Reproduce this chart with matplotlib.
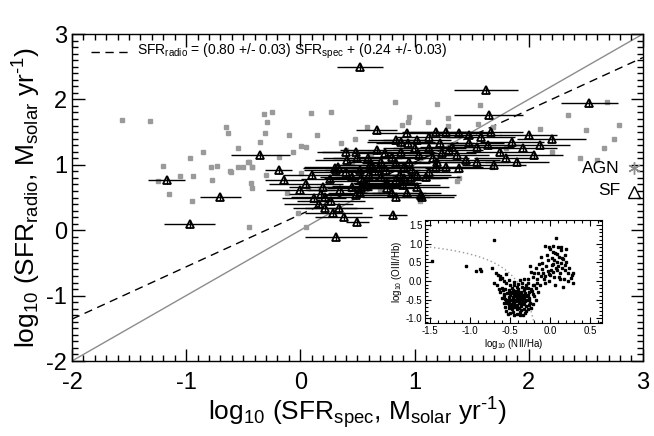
import matplotlib
matplotlib.use("Agg")
import matplotlib.pyplot as plt
import numpy as np

plt.rcParams['font.family'] = ['Liberation Sans', 'DejaVu Sans']
plt.rcParams['mathtext.fontset'] = 'custom'
plt.rcParams['mathtext.rm'] = 'Liberation Sans'
plt.rcParams['mathtext.it'] = 'Liberation Sans'
plt.rcParams['mathtext.bf'] = 'Liberation Sans'

# ---- SF galaxies: log SFR_spec, log SFR_radio, x error ----
sf_x = [0.52, 1.63, 2.53, -0.35, -0.19, -1.17, -0.70, -0.97, 0.31, -0.14,
        0.50, 0.38, 0.81, 0.67, 1.65, 0.10, 0.12, 0.22, 0.26, 0.20,
        0.22, 0.29, 0.34, 0.31, 0.40, 0.49, 0.41, 0.50, 0.93, 0.84,
        0.88, 0.74, 0.71, 0.61, 0.30, 0.33, 0.40, 0.45, 0.52, 0.53,
        0.45, 0.35, 0.53, 0.49, 0.52, 0.71, 0.75, 0.76, 0.80, 0.84,
        0.90, 0.93, 1.02, 1.06, 0.97, 0.84, 0.95, 1.04, 1.13, 1.02,
        1.13, 1.19, 1.28, 1.39, 1.48, 1.58, 1.67, 1.48, 1.55, 1.64,
        1.33, 1.22, 1.16, 1.24, 1.37, 1.45, 1.55, 1.39, 1.28, 1.19,
        1.13, 1.10, 0.98, 0.87, 0.91, 0.69, 0.63, 0.59, 0.67, 0.88,
        0.94, 0.76, 0.91, 0.84, 0.75, 1.02, 1.07, 0.16, 0.05, 0.60,
        1.85, 1.95, 2.05, 1.90, 2.10, 1.75, 1.80, 2.20, 2.00, 1.70,
        0.00, 0.18, 0.27, 0.55, 0.65, 1.20, 1.30, 1.00, 0.80, 0.58]
sf_y = [2.50, 2.14, 1.94, 1.15, 0.92, 0.77, 0.51, 0.09, -0.10, 0.77,
        0.13, 0.20, 0.23, 1.53, 1.76, 0.84, 0.49, 0.51, 0.78, 0.66,
        0.34, 0.26, 0.34, 0.92, 1.20, 1.20, 1.07, 1.10, 1.48, 1.38,
        1.35, 1.18, 1.05, 1.00, 0.95, 0.96, 0.89, 0.81, 0.92, 0.80,
        0.66, 0.61, 0.64, 0.54, 0.57, 0.81, 0.92, 0.64, 0.57, 0.51,
        0.69, 0.57, 0.66, 0.54, 0.80, 1.03, 1.05, 1.15, 1.26, 1.38,
        1.43, 1.50, 1.50, 1.48, 1.46, 1.43, 1.50, 1.33, 1.27, 1.30,
        1.27, 1.33, 1.10, 1.18, 1.15, 1.07, 1.04, 0.95, 0.97, 0.97,
        0.89, 0.81, 0.92, 0.84, 0.97, 0.95, 1.00, 1.10, 1.23, 1.20,
        1.33, 0.72, 0.80, 0.77, 0.70, 0.84, 0.51, 0.40, 0.70, 0.85,
        1.35, 1.25, 1.15, 1.05, 1.30, 1.20, 1.10, 1.40, 1.45, 1.00,
        0.62, 0.55, 0.45, 0.75, 0.90, 1.05, 1.22, 1.25, 1.12, 0.68]
sf_xerr = [0.20, 0.28, 0.25, 0.26, 0.12, 0.16, 0.18, 0.22, 0.27, 0.17,
           0.10, 0.25, 0.12, 0.18, 0.30, 0.25, 0.28, 0.30, 0.25, 0.30,
           0.28, 0.25, 0.30, 0.28, 0.25, 0.30, 0.28, 0.30, 0.30, 0.25,
           0.30, 0.28, 0.30, 0.32, 0.28, 0.30, 0.30, 0.28, 0.30, 0.32,
           0.30, 0.28, 0.30, 0.30, 0.28, 0.32, 0.30, 0.28, 0.30, 0.30,
           0.32, 0.30, 0.28, 0.30, 0.32, 0.30, 0.28, 0.30, 0.32, 0.30,
           0.28, 0.30, 0.32, 0.30, 0.28, 0.30, 0.28, 0.30, 0.32, 0.30,
           0.28, 0.30, 0.32, 0.30, 0.28, 0.30, 0.28, 0.30, 0.32, 0.30,
           0.28, 0.30, 0.32, 0.30, 0.28, 0.30, 0.28, 0.30, 0.32, 0.30,
           0.28, 0.30, 0.32, 0.30, 0.28, 0.30, 0.28, 0.30, 0.32, 0.30,
           0.28, 0.30, 0.25, 0.28, 0.26, 0.30, 0.28, 0.30, 0.25, 0.28,
           0.30, 0.28, 0.30, 0.32, 0.30, 0.28, 0.30, 0.28, 0.30, 0.30]

# ---- AGN: log SFR_spec, log SFR_radio ----
agn_x = [-1.32, -0.97, -1.05, -0.94, -0.78, -0.73, -0.65, -0.63, -0.62, -0.46,
         -0.42, -0.35, -0.32, -0.25, -0.29, -0.31, -0.19, -0.30, -0.06, 0.01,
         0.05, 0.09, 0.27, 0.36, 0.40, 0.48, 0.83, 1.20, 1.57, 0.58,
         0.89, 0.95, 0.94, 1.12, 1.29, 1.29, 1.56, 1.69, -0.45, -0.42,
         -0.55, -0.50, -0.61, -0.77, 0.01, -0.43, -0.42, -0.12, 0.07, -0.02,
         -0.45, 0.05, 1.68, 1.39, 1.37, 1.03, -1.56, -1.25, -1.15, -1.20,
         -0.95, 2.69, 2.79, 2.66, 2.60, 2.50, 2.34, 2.45, 2.75, 2.20,
         0.45, 0.62, 0.15, -0.10, 0.70, 1.05, 1.80, 2.10, -0.85, -0.55]
agn_y = [1.67, 1.10, 0.83, 0.83, 0.97, 0.98, 1.58, 1.49, 0.91, 1.04,
         0.97, 1.35, 1.78, 1.81, 1.65, 1.49, 1.12, 0.84, 1.20, 1.29,
         1.27, 1.79, 1.81, 1.33, 1.22, 1.40, 1.96, 1.93, 1.91, 1.58,
         1.61, 1.73, 1.65, 1.65, 1.71, 1.60, 1.62, 1.58, 1.04, 0.97,
         0.97, 0.97, 0.89, 0.77, 0.87, 0.72, 0.64, 0.57, 0.64, 0.26,
         0.05, 0.05, 0.97, 0.80, 0.75, 0.51, 1.68, 0.75, 0.55, 0.98,
         0.45, 1.96, 1.61, 1.26, 1.07, 1.53, 1.76, 1.10, 1.40, 1.20,
         1.05, 1.15, 1.45, 1.45, 0.60, 0.45, 1.25, 1.55, 1.20, 1.25]

# ---- Inset BPT diagram: log NII/Ha, log OIII/Hb ----
bpt_x = [-0.55, -0.50, -0.45, -0.40, -0.35, -0.30, -0.28, -0.60, -0.56, -0.52,
         -0.48, -0.44, -0.40, -0.36, -0.33, -0.27, -0.24, -0.62, -0.58, -0.54,
         -0.50, -0.47, -0.43, -0.40, -0.37, -0.34, -0.30, -0.26, -0.22, -0.60,
         -0.56, -0.52, -0.49, -0.46, -0.44, -0.41, -0.38, -0.35, -0.32, -0.29,
         -0.25, -0.58, -0.54, -0.51, -0.48, -0.45, -0.42, -0.39, -0.36, -0.33,
         -0.30, -0.27, -0.56, -0.52, -0.48, -0.45, -0.42, -0.39, -0.36, -0.33,
         -0.30, -0.50, -0.46, -0.42, -0.38, -0.34, -0.55, -0.53, -0.40, -0.45,
         -0.42, -0.38, -0.47, -0.43, -0.40, -0.37, -0.50, -0.46, -0.41, -0.35,
         -0.31, -0.44, -0.47, -0.49, -0.41, -0.37, -0.35, -0.43, -0.39, -0.36,
         -0.33, -0.31, -0.28, -0.26, -0.23, -0.20, -0.53, -0.57, -0.59, -0.64,
         -0.66, -0.70, -0.58, -0.62, -0.52, -0.45, -0.38, -0.33, -0.28, -0.22,
         -0.18, -0.15, -0.18, -0.21, -0.24, -0.52, -0.55, -0.45, -0.38, -0.31,
         -0.28,
         -1.48, -1.05, -0.93, -0.87, -0.86, -0.72, -0.70, -0.65, -0.62, -0.55,
         -0.68, -0.60,
         -0.25, -0.22, -0.20, -0.17, -0.15, -0.12, -0.10, -0.08, -0.06, -0.05,
         -0.03, -0.02, 0.00, 0.01, 0.02, 0.03, 0.04, 0.05, 0.06, 0.07,
         0.08, 0.09, 0.10, 0.11, 0.12, 0.13, 0.14, 0.15, 0.16, 0.17,
         0.18, 0.19, 0.20, 0.22, 0.24, 0.26, 0.28, 0.29, 0.27, 0.22,
         0.16, 0.11, 0.06, -0.01, -0.07, -0.13, -0.11, -0.18, -0.24, -0.28,
         -0.14, -0.04, 0.04, 0.09, 0.02, -0.09, 0.13, 0.05, 0.00, -0.16,
         -0.20, 0.18, 0.10, -0.03, 0.07, -0.06, 0.15, 0.03, -0.10, 0.12,
         0.20, -0.02]
bpt_y = [-0.05, -0.10, -0.12, -0.08, -0.15, -0.10, -0.20, -0.18, -0.22, -0.25,
         -0.20, -0.28, -0.22, -0.30, -0.25, -0.30, -0.22, -0.30, -0.35, -0.32,
         -0.38, -0.33, -0.40, -0.35, -0.42, -0.38, -0.40, -0.45, -0.35, -0.45,
         -0.48, -0.44, -0.50, -0.46, -0.52, -0.48, -0.55, -0.50, -0.55, -0.52,
         -0.58, -0.58, -0.60, -0.56, -0.62, -0.58, -0.64, -0.60, -0.66, -0.62,
         -0.68, -0.64, -0.70, -0.72, -0.75, -0.70, -0.76, -0.72, -0.78, -0.74,
         -0.80, -0.85, -0.82, -0.88, -0.84, -0.90, -0.80, -0.88, -0.30, -0.38,
         -0.45, -0.45, -0.42, -0.55, -0.52, -0.35, -0.30, -0.25, -0.15, -0.05,
         -0.18, -0.67, -0.55, -0.66, -0.70, -0.62, -0.58, -0.32, -0.40, -0.47,
         -0.45, -0.33, -0.38, -0.52, -0.28, -0.40, -0.52, -0.40, -0.25, -0.22,
         -0.12, -0.05, 0.00, 0.05, 0.02, -0.02, 0.02, 0.05, -0.05, -0.12,
         -0.20, -0.30, -0.50, -0.62, -0.72, -0.65, -0.55, -0.90, -0.92, -0.86,
         -0.75,
         0.54, 0.40, 0.26, 0.33, 0.28, 0.35, 1.10, 0.15, 0.12, 0.18,
         0.20, 0.08,
         0.40, 0.10, 0.22, 0.05, 0.20, 0.65, 0.32, 0.05, 0.95, 0.40,
         0.55, 0.18, 0.85, 0.30, 0.62, 0.95, 0.45, 0.10, 0.75, 1.15,
         0.52, 0.30, 0.90, 0.65, 0.20, 0.48, 0.82, 0.35, 0.58, 0.05,
         0.70, 0.30, 0.50, 0.20, 0.35, 0.08, 0.22, -0.05, 0.15, 0.00,
         -0.15, 0.10, -0.10, 0.00, -0.05, -0.10, 0.12, 0.35, 0.25, 0.05,
         0.45, 0.70, 0.25, 0.72, 0.42, 0.20, 0.92, 0.55, 0.15, -0.05,
         -0.10, 0.42, 0.40, 0.28, 0.35, 0.12, 0.62, 0.78, 0.48, 0.05,
         0.85, 0.90]

fit_slope, fit_icpt = 0.80, 0.24
xlim = (-2, 3)
ylim = (-2, 3)

fig = plt.figure(figsize=(6.54, 4.36), dpi=100)
ax = fig.add_axes([0.110, 0.172, 0.873, 0.750])

xx = np.array(xlim)
ax.plot(xx, xx, color='#8c8c8c', lw=1.0, zorder=1)
ax.plot(xx, fit_slope * xx + fit_icpt, color='black', lw=1.0,
        dashes=(6, 4), zorder=1)

ax.plot(agn_x, agn_y, ls='none', marker='s', ms=2.2, mfc='#9a9a9a',
        mec='#9a9a9a', zorder=2)
ax.errorbar(sf_x, sf_y, xerr=sf_xerr, yerr=0.06, fmt='^', ms=5.5,
            mfc='none', mec='black', mew=1.3, ecolor='black',
            elinewidth=1.0, capsize=0, color='black', zorder=3)

ax.set_xlim(*xlim)
ax.set_ylim(*ylim)
ax.set_xticks([-2, -1, 0, 1, 2, 3])
ax.set_yticks([-2, -1, 0, 1, 2, 3])
ax.set_xticklabels(['-2', '-1', '0', '1', '2', '3'])
ax.set_yticklabels(['-2', '-1', '0', '1', '2', '3'])
ax.xaxis.set_minor_locator(matplotlib.ticker.MultipleLocator(0.1))
ax.yaxis.set_minor_locator(matplotlib.ticker.MultipleLocator(0.1))
ax.tick_params(which='both', direction='in', top=True, right=True,
               labelsize=17, width=1.0)
ax.tick_params(which='major', length=9)
ax.tick_params(which='minor', length=4)
ax.tick_params(axis='x', pad=8)
for s in ax.spines.values():
    s.set_linewidth(1.0)

ax.set_xlabel(r'log$_{10}$ (SFR$_{\rm spec}$, M$_{\rm solar}$ yr$^{\text{-1}}$)',
              fontsize=19, labelpad=1)
ax.set_ylabel(r'log$_{10}$ (SFR$_{\rm radio}$, M$_{\rm solar}$ yr$^{\text{-1}}$)',
              fontsize=19, labelpad=2)

# fit legend
ax.plot([-1.83, -1.51], [2.73, 2.73], color='black', lw=1.0, dashes=(6, 4))
ax.text(-1.43, 2.73,
        r'SFR$_{\rm radio}$ = (0.80 +/- 0.03) SFR$_{\rm spec}$ + (0.24 +/- 0.03)',
        fontsize=10, va='center', ha='left')

# AGN / SF legend
ax.text(2.80, 0.95, 'AGN', fontsize=12.5, ha='right', va='center')
ax.plot([2.92], [0.95], marker=(6, 2, 0), ms=9, color='#8c8c8c', mew=1.0)
ax.text(2.80, 0.61, 'SF', fontsize=12.5, ha='right', va='center')
ax.plot([2.92], [0.59], marker='^', ms=8, mfc='none', mec='black', mew=1.0)

# inset
ins = fig.add_axes([0.650, 0.259, 0.271, 0.236])
bx = np.linspace(-1.5, -0.2, 100)
ins.plot(bx, 0.61 / (bx - 0.05) + 1.3, color='#999999', lw=1.0,
         ls=(0, (1, 2)))
ins.plot(bpt_x, bpt_y, ls='none', marker='s', ms=1.6, mfc='black',
         mec='black')
ins.set_xlim(-1.56, 0.65)
ins.set_ylim(-1.13, 1.63)
ins.set_xticks([-1.5, -1.0, -0.5, 0.0, 0.5])
ins.set_yticks([-1.0, -0.5, 0.0, 0.5, 1.0, 1.5])
ins.set_xticklabels(['-1.5', '-1.0', '-0.5', '0.0', '0.5'])
ins.set_yticklabels(['-1.0', '-0.5', '0.0', '0.5', '1.0', '1.5'])
ins.xaxis.set_minor_locator(matplotlib.ticker.MultipleLocator(0.1))
ins.yaxis.set_minor_locator(matplotlib.ticker.MultipleLocator(0.1))
ins.tick_params(which='both', direction='in', top=True, right=True,
                labelsize=7, width=0.8, pad=2)
ins.tick_params(which='major', length=4)
ins.tick_params(which='minor', length=2)
ins.set_xlabel(r'log$_{10}$ (NII/Ha)', fontsize=7, labelpad=1)
ins.set_ylabel(r'log$_{10}$ (OIII/Hb)', fontsize=7, labelpad=1)

fig.savefig('out.png', dpi=100)
